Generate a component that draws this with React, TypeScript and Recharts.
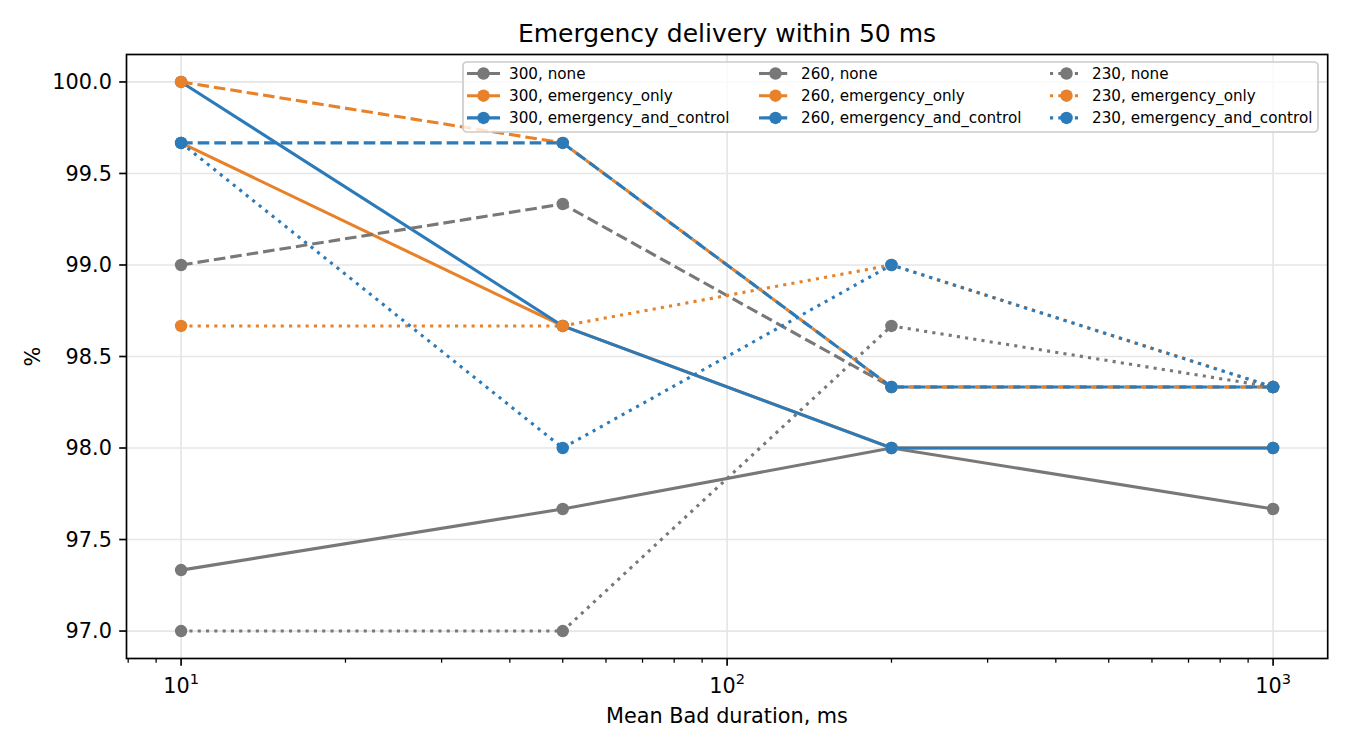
import { CartesianGrid, Line, LineChart, ReferenceLine, XAxis, YAxis } from "recharts";

// Mean Bad duration, ms (log axis)
const X_VALUES = [10, 50, 200, 1000];

// Emergency delivery within 50 ms, %
const RATE_300_NONE = [97.333, 97.667, 98.0, 97.667];
const RATE_300_EMERGENCY_ONLY = [99.667, 98.667, 98.0, 98.0];
const RATE_300_EMERGENCY_AND_CONTROL = [100.0, 98.667, 98.0, 98.0];
const RATE_260_NONE = [99.0, 99.333, 98.333, 98.333];
const RATE_260_EMERGENCY_ONLY = [100.0, 99.667, 98.333, 98.333];
const RATE_260_EMERGENCY_AND_CONTROL = [99.667, 99.667, 98.333, 98.333];
const RATE_230_NONE = [97.0, 97.0, 98.667, 98.333];
const RATE_230_EMERGENCY_ONLY = [98.667, 98.667, 99.0, 98.333];
const RATE_230_EMERGENCY_AND_CONTROL = [99.667, 98.0, 99.0, 98.333];

const MAJOR_TICKS = [10, 100, 1000];
const MINOR_TICKS = [8, 9, 20, 30, 40, 50, 60, 70, 80, 90, 200, 300, 400, 500, 600, 700, 800, 900];
const Y_TICKS = [97.0, 97.5, 98.0, 98.5, 99.0, 99.5, 100.0];

const X_DOMAIN = [Math.pow(10, 0.9), Math.pow(10, 3.1)];
const Y_DOMAIN = [96.85, 100.15];

const GRAY = "#787878";
const ORANGE = "#e8822a";
const BLUE = "#2b7bba";
const DASHED = "11.6 5";
const DOTTED = "3.1 5.2";
const FONT = "DejaVu Sans";

const SERIES = [
  { name: "300, none", values: RATE_300_NONE, color: GRAY, dash: undefined },
  { name: "300, emergency_only", values: RATE_300_EMERGENCY_ONLY, color: ORANGE, dash: undefined },
  { name: "300, emergency_and_control", values: RATE_300_EMERGENCY_AND_CONTROL, color: BLUE, dash: undefined },
  { name: "260, none", values: RATE_260_NONE, color: GRAY, dash: DASHED },
  { name: "260, emergency_only", values: RATE_260_EMERGENCY_ONLY, color: ORANGE, dash: DASHED },
  { name: "260, emergency_and_control", values: RATE_260_EMERGENCY_AND_CONTROL, color: BLUE, dash: DASHED },
  { name: "230, none", values: RATE_230_NONE, color: GRAY, dash: DOTTED },
  { name: "230, emergency_only", values: RATE_230_EMERGENCY_ONLY, color: ORANGE, dash: DOTTED },
  { name: "230, emergency_and_control", values: RATE_230_EMERGENCY_AND_CONTROL, color: BLUE, dash: DOTTED },
];

// plot box, matches the chart margins below
const PLOT = { left: 126.5, right: 1327.7, top: 54.5, bottom: 658.5 };

function LogTick(props: any) {
  const { x, y, payload } = props;
  const v = payload.value;
  const major = MAJOR_TICKS.includes(v);
  return (
    <g>
      <line
        x1={x}
        x2={x}
        y1={y}
        y2={y + (major ? 7.3 : 4.2)}
        stroke="#000"
        strokeWidth={major ? 1.67 : 1.25}
      />
      {major ? (
        <text x={x} y={y + 34} textAnchor="middle" fontFamily={FONT} fill="#000">
          <tspan fontSize={20.8}>10</tspan>
          <tspan fontSize={14.6} dy={-9}>
            {Math.round(Math.log10(v))}
          </tspan>
        </text>
      ) : null}
    </g>
  );
}

const LEGEND_TEXT_X = [509, 801, 1092];

function LegendBox() {
  return (
    <g>
      <rect x={463} y={62} width={855} height={70} rx={4} fill="#fff" fillOpacity={0.8} stroke="#cccccc" strokeWidth={1.67} />
      {SERIES.map((s, i) => {
        const tx = LEGEND_TEXT_X[Math.floor(i / 3)];
        const base = 78.7 + (i % 3) * 22.2;
        const hy = base - 5.2;
        return (
          <g key={s.name}>
            <line x1={tx - 42} x2={tx - 9} y1={hy} y2={hy} stroke={s.color} strokeWidth={3.1} strokeDasharray={s.dash} />
            <circle cx={tx - 25.5} cy={hy} r={6.25} fill={s.color} />
            <text x={tx} y={base} fontFamily={FONT} fontSize={15.2} fill="#000">
              {s.name}
            </text>
          </g>
        );
      })}
    </g>
  );
}

export default function App() {
  return (
    <div style={{ position: "relative", width: 1350, height: 750, background: "#fff" }}>
      <style>{`body{margin:0}`}</style>
      <LineChart
        width={1350}
        height={750}
        margin={{ top: PLOT.top, right: 1350 - PLOT.right, bottom: 0, left: 0 }}
      >
        <CartesianGrid vertical={false} stroke="#e6e6e6" strokeWidth={1.67} />
        {MAJOR_TICKS.map((v) => (
          <ReferenceLine key={v} x={v} stroke="#e6e6e6" strokeWidth={1.67} />
        ))}
        <XAxis
          dataKey="x"
          type="number"
          scale="log"
          domain={X_DOMAIN}
          allowDataOverflow
          ticks={[...MAJOR_TICKS, ...MINOR_TICKS].sort((a, b) => a - b)}
          interval={0}
          tick={LogTick}
          tickSize={0}
          tickMargin={0}
          tickLine={false}
          axisLine={false}
          height={750 - PLOT.bottom}
        />
        <YAxis
          type="number"
          domain={Y_DOMAIN}
          allowDataOverflow
          ticks={Y_TICKS}
          interval={0}
          tickFormatter={(v: number) => v.toFixed(1)}
          tick={{ fill: "#000", fontSize: 20.8, fontFamily: FONT }}
          tickLine={{ stroke: "#000", strokeWidth: 1.67 }}
          tickSize={7.3}
          tickMargin={7.3}
          axisLine={false}
          width={PLOT.left}
        />
        {SERIES.map((s) => (
          <Line
            key={s.name}
            name={s.name}
            data={X_VALUES.map((x, i) => ({ x, y: s.values[i] }))}
            dataKey="y"
            stroke={s.color}
            strokeWidth={3.1}
            strokeDasharray={s.dash}
            dot={{ r: 6.25, fill: s.color, stroke: "none", strokeWidth: 0 }}
            activeDot={false}
            isAnimationActive={false}
          />
        ))}
      </LineChart>
      <svg
        width={1350}
        height={750}
        style={{ position: "absolute", left: 0, top: 0, pointerEvents: "none" }}
      >
        <rect
          x={PLOT.left}
          y={PLOT.top}
          width={PLOT.right - PLOT.left}
          height={PLOT.bottom - PLOT.top}
          fill="none"
          stroke="#000"
          strokeWidth={1.67}
        />
        <text x={727} y={41.5} textAnchor="middle" fontFamily={FONT} fontSize={25} fill="#000">
          Emergency delivery within 50 ms
        </text>
        <text x={727} y={723} textAnchor="middle" fontFamily={FONT} fontSize={20.8} fill="#000">
          Mean Bad duration, ms
        </text>
        <text transform="translate(40,356.5) rotate(-90)" textAnchor="middle" fontFamily={FONT} fontSize={20.8} fill="#000">
          %
        </text>
        <LegendBox />
      </svg>
    </div>
  );
}
